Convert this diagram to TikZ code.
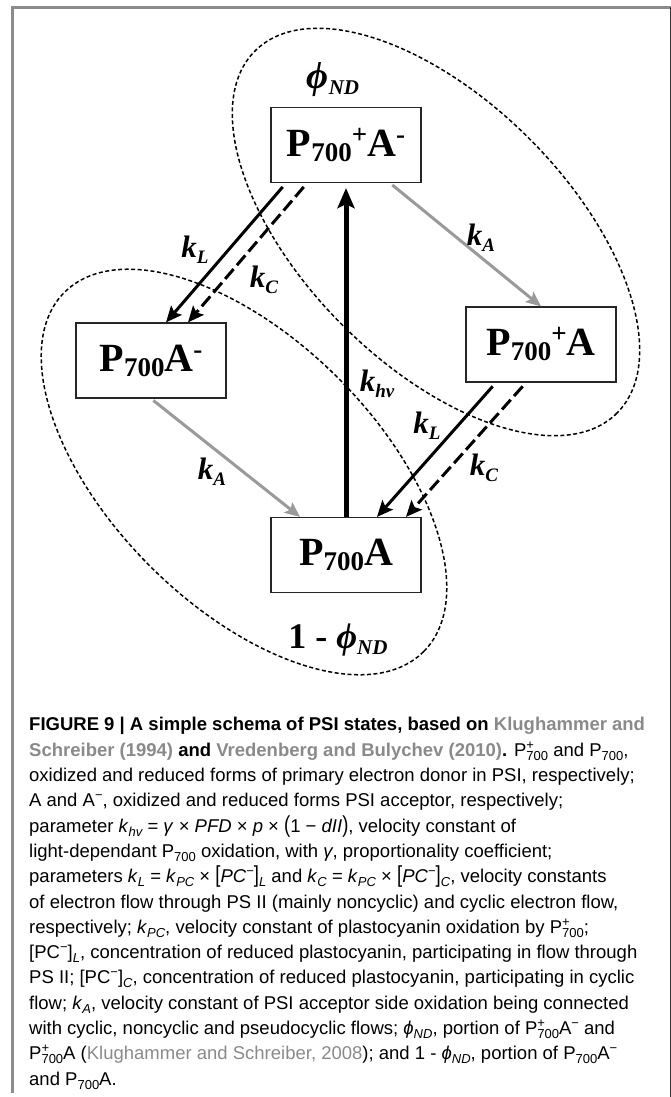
\documentclass[tikz,border=0pt]{standalone}
\usepackage{fontspec}
\setmainfont{Liberation Serif}
\newfontfamily\capfont{Liberation Sans}
\usetikzlibrary{arrows.meta,positioning}

\definecolor{flowgray}{HTML}{9A9A9A}
\definecolor{framegray}{HTML}{8C8C8C}
\definecolor{citegray}{HTML}{8A8A8A}

% state box text
\newcommand{\bsub}[1]{\raisebox{-5pt}{\fontsize{27}{27}\selectfont #1}}
\newcommand{\bsup}[1]{\raisebox{13pt}{\fontsize{27}{27}\selectfont #1}}
% rate labels
\newcommand{\ksub}[1]{\raisebox{-6pt}{\fontsize{19}{19}\selectfont #1}}
% caption helpers
\newcommand{\csz}{\fontsize{13}{13}\selectfont}
\newcommand{\Pp}{P\rlap{\raisebox{7pt}{\csz +}}\raisebox{-4pt}{\csz 700}}
\newcommand{\Pn}{P\raisebox{-4pt}{\csz 700}}
\newcommand{\Am}{A\raisebox{7pt}{\csz −}}
\newcommand{\ck}[1]{\textit{k}\raisebox{-4pt}{\csz\itshape #1}}
\newcommand{\csb}[1]{\raisebox{-4pt}{\csz #1}}
\newcommand{\csp}[1]{\raisebox{7pt}{\csz #1}}

\begin{document}
\begin{tikzpicture}[
    x=1pt, y=-1pt,
    statebox/.style={draw=black!85, line width=1.2pt, minimum width=150pt, minimum height=75pt,
      inner sep=0pt, font=\fontsize{40}{40}\selectfont\bfseries},
    klabel/.style={inner sep=0pt, font=\fontsize{31}{31}\selectfont\bfseries\itshape},
    flow/.style={line width=3pt, -{Stealth[length=16pt,width=14pt,inset=3pt]}, shorten <=5pt},
    cflow/.style={flow, dash pattern=on 13pt off 5pt},
    aflow/.style={line width=3pt, flowgray, -{Stealth[length=15pt,width=13pt,inset=3pt]}, shorten <=3pt},
    zone/.style={line width=1.5pt, dash pattern=on 4pt off 2.5pt},
]
\useasboundingbox (0,0) rectangle (671,1097);

% frame
\draw[framegray, line width=2.5pt] (12.5,1093) -- (12.5,7.5) -- (671,7.5);
\draw[black!80, line width=1pt] (670,7.5) -- (670,1097);

% pools
\draw[zone, rotate around={-45:(436,232)}] (436,232) ellipse [x radius=256, y radius=132];
\draw[zone, rotate around={-45:(244,472)}] (244,472) ellipse [x radius=254, y radius=133];
\node[inner sep=0pt, font=\fontsize{38}{38}\selectfont\bfseries\itshape] (phind) at (333,80) {ϕ\ksub{\fontsize{21}{21}\selectfont ND}};
\node[inner sep=0pt, font=\fontsize{36}{36}\selectfont\bfseries] (phinot) at (338,640) {1 - \textit{ϕ\ksub{\fontsize{21}{21}\selectfont ND}}};

% states
\node[statebox] (PoxAred) at (346,145) {P\bsub{700}\bsup{+}A\bsup{-}};
\node[statebox] (PredAred) at (151,360.5) {P\bsub{700}A\bsup{-}};
\node[statebox] (PoxAox) at (541,344.5) {P\bsub{700}\bsup{+}A};
\node[statebox] (PredAox) at (346,555) {P\bsub{700}A};

% transitions
\draw[flow] ([xshift=-60pt]PoxAred.south) -- ([xshift=15pt]PredAred.north);
\draw[cflow] ([xshift=-39pt]PoxAred.south) -- ([xshift=37pt]PredAred.north);
\draw[aflow] ([xshift=44pt]PoxAred.south) -- (PoxAox.north);
\draw[line width=5pt, -{Stealth[length=20pt,width=17pt,inset=4pt]}, shorten >=5pt] (PredAox.north) -- (PoxAred.south);
\draw[aflow] (PredAred.south) -- ([xshift=-46pt]PredAox.north);
\draw[flow] ([xshift=-45pt]PoxAox.south) -- ([xshift=31pt]PredAox.north);
\draw[cflow] ([xshift=-15pt]PoxAox.south) -- ([xshift=60pt]PredAox.north);

% rate constants
\node[klabel] (kL1) at (195,250) {k\ksub{L}};
\node[klabel] (kC1) at (264,280) {k\ksub{C}};
\node[klabel] (kA1) at (481,238) {k\ksub{A}};
\node[klabel] (khv) at (377,384) {k\ksub{hv}};
\node[klabel] (kL2) at (427,426) {k\ksub{L}};
\node[klabel] (kC2) at (484,468) {k\ksub{C}};
\node[klabel] (kA2) at (212,472) {k\ksub{A}};

% caption
\node[anchor=north west, inner sep=0pt, align=left, font=\capfont\fontsize{18.5}{25.3}\selectfont] (caption) at (29,717.3) {%
\textbf{FIGURE 9 | A simple schema of PSI states, based on \textcolor{citegray}{Klughammer and}}\\
\textbf{\textcolor{citegray}{Schreiber (1994)} and \textcolor{citegray}{Vredenberg and Bulychev (2010)}.} \Pp\ and \Pn,\\
oxidized and reduced forms of primary electron donor in PSI, respectively;\\
A and \Am, oxidized and reduced forms PSI acceptor, respectively;\\
parameter \ck{hv} = \textit{γ} × \textit{PFD} × \textit{p} × \scalebox{1}[1.25]{(}1 − \textit{dII}\scalebox{1}[1.25]{)}, velocity constant of\\
light-dependant \Pn\ oxidation, with \textit{γ}, proportionality coefficient;\\
parameters \ck{L} = \ck{PC} × \scalebox{1}[1.25]{[}\textit{PC}\csp{−}\scalebox{1}[1.25]{]}\csb{\textit{L}} and \ck{C} = \ck{PC} × \scalebox{1}[1.25]{[}\textit{PC}\csp{−}\scalebox{1}[1.25]{]}\csb{\textit{C}}, velocity constants\\
of electron flow through PS II (mainly noncyclic) and cyclic electron flow,\\
respectively; \ck{PC}, velocity constant of plastocyanin oxidation by \Pp;\\
{[}PC\csp{−}]\csb{\textit{L}}, concentration of reduced plastocyanin, participating in flow through\\
PS II; [PC\csp{−}]\csb{\textit{C}}, concentration of reduced plastocyanin, participating in cyclic\\
flow; \ck{A}, velocity constant of PSI acceptor side oxidation being connected\\
with cyclic, noncyclic and pseudocyclic flows; \textit{ϕ}\csb{\textit{ND}}, portion of \Pp\Am\ and\\
\Pp A (\textcolor{citegray}{Klughammer and Schreiber, 2008}); and 1 - \textit{ϕ}\csb{\textit{ND}}, portion of \Pn\Am\\
and \Pn A.};
\end{tikzpicture}
\end{document}
